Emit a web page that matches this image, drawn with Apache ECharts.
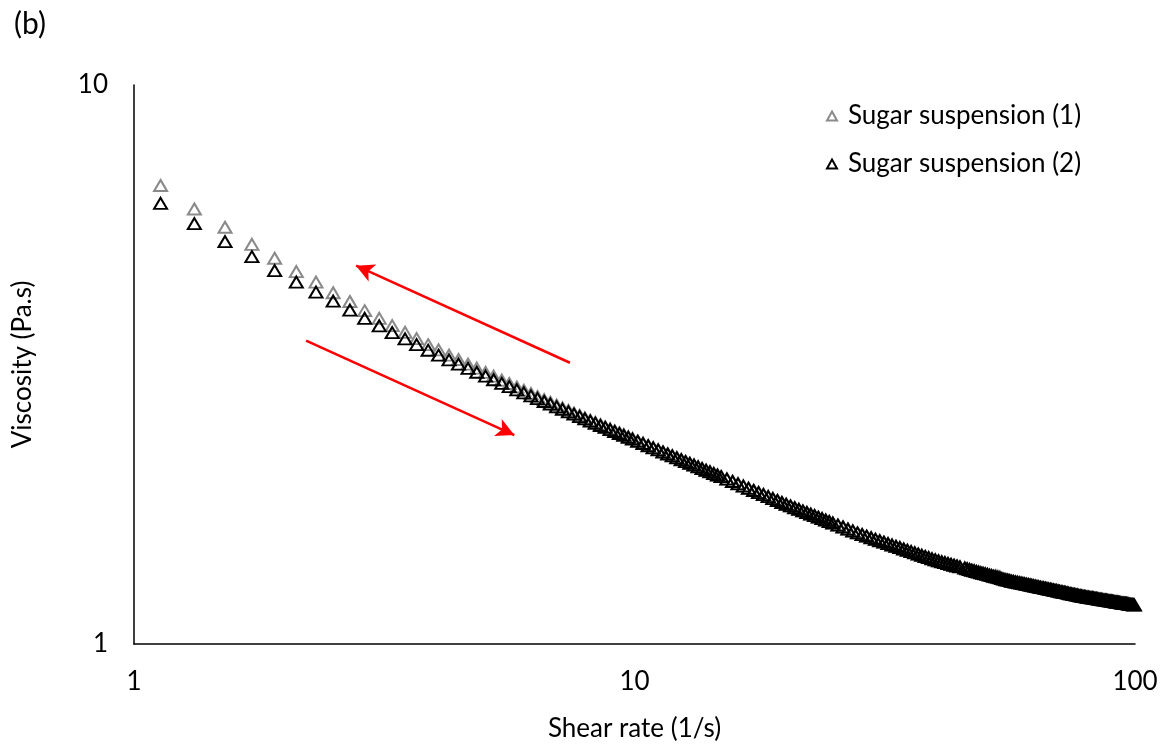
<!DOCTYPE html>
<html>
<head>
<meta charset="utf-8">
<script src="https://cdn.jsdelivr.net/npm/echarts@6.0.0/dist/echarts.min.js"></script>
<style>
  html, body { margin: 0; padding: 0; background: #fff; }
  #chart { width: 1161px; height: 747px; }
</style>
</head>
<body>
<div id="chart"></div>
<script>
// shear rate (1/s), same sweep for both runs
var shearRate = [
  1.13, 1.32, 1.52, 1.72, 1.91, 2.11, 2.31, 2.50, 2.70, 2.89, 3.09, 3.28, 3.48, 3.67, 3.87, 4.06,
  4.26, 4.45, 4.65, 4.84, 5.04, 5.23, 5.43, 5.62, 5.82, 6.01, 6.21, 6.40, 6.60, 6.79, 6.99, 7.18,
  7.38, 7.57, 7.77, 7.96, 8.16, 8.35, 8.55, 8.74, 8.94, 9.13, 9.33, 9.52, 9.72, 9.91,
  10.15, 10.40, 10.65, 10.90, 11.15, 11.40, 11.65, 11.90, 12.15, 12.40, 12.65, 12.90, 13.15, 13.40,
  13.65, 13.90, 14.15, 14.40, 14.65, 14.90,
  15.3, 15.7, 16.1, 16.5, 16.9, 17.3, 17.7, 18.1, 18.5, 18.9, 19.3, 19.7,
  20.1, 20.5, 20.9, 21.3, 21.7, 22.1, 22.5, 22.9, 23.3, 23.7, 24.1, 24.5, 24.9,
  25.5, 26.1, 26.7, 27.3, 27.9,
  28.5, 29.1, 29.7, 30.3, 30.9, 31.5, 32.1, 32.7, 33.3, 33.9, 34.5, 35.1, 35.7, 36.3, 36.9, 37.5,
  38.1, 38.7, 39.3,
  39.9, 40.5, 41.1, 41.7, 42.3, 42.9, 43.5, 44.1, 44.7,
  45.7, 46.2, 46.7, 47.2, 47.7, 48.2, 48.7, 49.2, 49.7, 50.2,
  50.7, 51.2, 51.7, 52.2, 52.7, 53.2, 53.7, 54.2, 54.7, 55.2,
  55.7, 56.2, 56.7, 57.2, 57.7, 58.2, 58.7, 59.2, 59.7, 60.2,
  60.7, 61.2, 61.7, 62.2, 62.7, 63.2, 63.7, 64.2, 64.7, 65.2,
  65.7, 66.2, 66.7, 67.2, 67.7, 68.2, 68.7, 69.2, 69.7, 70.2,
  70.7, 71.2, 71.7, 72.2, 72.7, 73.2, 73.7, 74.2, 74.7, 75.2,
  75.7, 76.2, 76.7, 77.2, 77.7, 78.2, 78.7, 79.2, 79.7, 80.2,
  80.7, 81.2, 81.7, 82.2, 82.7, 83.2, 83.7, 84.2, 84.7, 85.2,
  85.7, 86.2, 86.7, 87.2, 87.7, 88.2, 88.7, 89.2, 89.7, 90.2,
  90.7, 91.2, 91.7, 92.2, 92.7, 93.2, 93.7, 94.2, 94.7, 95.2,
  95.7, 96.2, 96.7, 97.2, 97.7, 98.2, 98.7, 99.2, 99.7
];

// viscosity (Pa.s) - sugar suspension (1), grey
var viscosity1 = [
  6.61, 6.00, 5.566, 5.186, 4.898, 4.636, 4.44, 4.25, 4.099, 3.947, 3.824, 3.712, 3.609, 3.519, 3.431, 3.358,
  3.287, 3.228, 3.168, 3.115, 3.062, 3.015, 2.966, 2.924, 2.882, 2.844, 2.806, 2.772, 2.737, 2.707, 2.675, 2.645,
  2.618, 2.590, 2.564, 2.538, 2.514, 2.493, 2.470, 2.447, 2.426, 2.407, 2.387, 2.369, 2.350, 2.333,
  2.308, 2.287, 2.266, 2.246, 2.227, 2.208, 2.190, 2.173, 2.156, 2.139, 2.123, 2.107, 2.092, 2.077,
  2.062, 2.048, 2.035, 2.021, 2.008, 1.995,
  1.974, 1.955, 1.936, 1.918, 1.901, 1.884, 1.868, 1.852, 1.837, 1.822, 1.808, 1.793,
  1.779, 1.767, 1.754, 1.742, 1.731, 1.720, 1.708, 1.698, 1.687, 1.677, 1.667, 1.657, 1.647,
  1.633, 1.620, 1.606, 1.594, 1.581,
  1.570, 1.560, 1.550, 1.540, 1.531, 1.522, 1.513, 1.504, 1.496, 1.488, 1.480, 1.472, 1.464, 1.457, 1.449, 1.442,
  1.435, 1.428, 1.421,
  1.415, 1.409, 1.404, 1.399, 1.394, 1.389, 1.384, 1.380, 1.375,
  1.368, 1.364, 1.360, 1.356, 1.353, 1.349, 1.346, 1.342, 1.339, 1.336,
  1.333, 1.329, 1.326, 1.323, 1.325, 1.322, 1.319, 1.310, 1.307, 1.304,
  1.302, 1.299, 1.296, 1.294, 1.292, 1.290, 1.288, 1.286, 1.284, 1.282,
  1.280, 1.278, 1.276, 1.274, 1.272, 1.270, 1.268, 1.266, 1.264, 1.262,
  1.261, 1.259, 1.257, 1.255, 1.254, 1.252, 1.250, 1.248, 1.247, 1.245,
  1.243, 1.241, 1.240, 1.238, 1.237, 1.235, 1.233, 1.231, 1.230, 1.228,
  1.227, 1.225, 1.224, 1.222, 1.221, 1.219, 1.218, 1.217, 1.216, 1.214,
  1.213, 1.212, 1.211, 1.210, 1.209, 1.208, 1.207, 1.205, 1.204, 1.203,
  1.202, 1.201, 1.200, 1.199, 1.198, 1.197, 1.196, 1.195, 1.194, 1.193,
  1.192, 1.191, 1.190, 1.189, 1.188, 1.187, 1.186, 1.185, 1.184, 1.183,
  1.183, 1.182, 1.181, 1.180, 1.179, 1.178, 1.177, 1.176, 1.175
];

// viscosity (Pa.s) - sugar suspension (2), black
var viscosity2 = [
  6.14, 5.65, 5.245, 4.93, 4.655, 4.44, 4.26, 4.105, 3.957, 3.824, 3.708, 3.607, 3.514, 3.433, 3.354, 3.286,
  3.223, 3.168, 3.112, 3.063, 3.014, 2.970, 2.925, 2.886, 2.848, 2.813, 2.778, 2.747, 2.715, 2.686, 2.656, 2.629,
  2.602, 2.577, 2.551, 2.528, 2.504, 2.483, 2.460, 2.440, 2.419, 2.400, 2.380, 2.362, 2.343, 2.326,
  2.305, 2.284, 2.263, 2.243, 2.224, 2.205, 2.187, 2.170, 2.153, 2.136, 2.120, 2.104, 2.089, 2.074,
  2.059, 2.045, 2.032, 2.018, 2.005, 1.992,
  1.972, 1.953, 1.934, 1.916, 1.899, 1.882, 1.866, 1.850, 1.835, 1.820, 1.806, 1.791,
  1.778, 1.766, 1.753, 1.741, 1.730, 1.719, 1.707, 1.697, 1.686, 1.676, 1.666, 1.656, 1.646,
  1.632, 1.619, 1.605, 1.593, 1.580,
  1.569, 1.559, 1.549, 1.539, 1.530, 1.521, 1.512, 1.503, 1.495, 1.487, 1.479, 1.471, 1.463, 1.456, 1.448, 1.441,
  1.434, 1.427, 1.420,
  1.414, 1.408, 1.403, 1.398, 1.393, 1.388, 1.383, 1.379, 1.374,
  1.367, 1.363, 1.359, 1.355, 1.352, 1.348, 1.345, 1.341, 1.338, 1.335,
  1.332, 1.328, 1.325, 1.322, 1.319, 1.316, 1.313, 1.309, 1.306, 1.303,
  1.301, 1.298, 1.295, 1.293, 1.291, 1.289, 1.287, 1.285, 1.283, 1.281,
  1.279, 1.277, 1.275, 1.273, 1.271, 1.269, 1.267, 1.265, 1.263, 1.261,
  1.260, 1.258, 1.256, 1.254, 1.253, 1.251, 1.249, 1.247, 1.246, 1.244,
  1.242, 1.240, 1.239, 1.237, 1.236, 1.234, 1.232, 1.230, 1.229, 1.227,
  1.226, 1.224, 1.223, 1.221, 1.220, 1.218, 1.217, 1.216, 1.215, 1.213,
  1.212, 1.211, 1.210, 1.209, 1.208, 1.207, 1.206, 1.204, 1.203, 1.202,
  1.201, 1.200, 1.199, 1.198, 1.197, 1.196, 1.195, 1.194, 1.193, 1.192,
  1.191, 1.190, 1.189, 1.188, 1.187, 1.186, 1.185, 1.184, 1.183, 1.182,
  1.182, 1.181, 1.180, 1.179, 1.178, 1.177, 1.176, 1.175, 1.174
];

var seriesNames = ['Sugar suspension (1)', 'Sugar suspension (2)'];
var seriesColors = ['#8a8a8a', '#000000'];

// red arrows (start -> head), in data coords
var arrowUp = [[7.43, 3.185], [2.778, 4.751]];
var arrowDown = [[2.207, 3.488], [5.752, 2.365]];

var font = 'Lato, "Open Sans", sans-serif';
var fontSize = 26;

function toPoints(ys) {
  return shearRate.map(function (x, i) { return [x, ys[i]]; });
}

function makeSeries(idx, ys) {
  return {
    name: seriesNames[idx],
    type: 'scatter',
    data: toPoints(ys),
    symbol: 'triangle',
    symbolSize: [13, 11],
    itemStyle: {
      color: 'rgba(255,255,255,0)',
      borderColor: seriesColors[idx],
      borderWidth: 2,
      opacity: 1
    },
    emphasis: { disabled: true },
    silent: true,
    z: 2 + idx
  };
}

var chart = echarts.init(document.getElementById('chart'), null, { renderer: 'canvas' });

var s2 = makeSeries(1, viscosity2);
s2.markLine = {
  silent: true,
  symbol: ['none', 'arrow'],
  symbolSize: [14, 18],
  label: { show: false },
  lineStyle: { color: '#ff0000', width: 2.5, type: 'solid' },
  emphasis: { disabled: true },
  data: [
    [{ coord: arrowUp[0] }, { coord: arrowUp[1] }],
    [{ coord: arrowDown[0] }, { coord: arrowDown[1] }]
  ]
};

chart.setOption({
  animation: false,
  backgroundColor: '#fff',
  textStyle: { fontFamily: font, color: '#000' },
  graphic: [{
    type: 'text',
    left: 14,
    top: 9,
    style: { text: '(b)', fontFamily: font, fontSize: 30, fill: '#000' }
  }],
  legend: {
    orient: 'vertical',
    left: 821,
    top: 98,
    itemWidth: 10,
    itemHeight: 9,
    itemGap: 22,
    icon: 'triangle',
    textStyle: { fontFamily: font, fontSize: fontSize, color: '#000', padding: [0, 0, 0, 6] },
    data: seriesNames
  },
  grid: { left: 134, right: 26, top: 85, bottom: 95, containLabel: false },
  xAxis: {
    type: 'log',
    logBase: 10,
    min: 1,
    max: 100,
    name: 'Shear rate (1/s)',
    nameLocation: 'middle',
    nameGap: 72,
    nameTextStyle: { fontFamily: font, fontSize: fontSize, color: '#000' },
    axisLine: { show: true, lineStyle: { color: '#000', width: 1.5 } },
    axisTick: { show: false },
    splitLine: { show: false },
    axisLabel: { fontFamily: font, fontSize: fontSize, color: '#000', margin: 25 }
  },
  yAxis: {
    type: 'log',
    logBase: 10,
    min: 1,
    max: 10,
    name: 'Viscosity (Pa.s)',
    nameLocation: 'middle',
    nameGap: 98,
    nameTextStyle: { fontFamily: font, fontSize: fontSize, color: '#000' },
    axisLine: { show: true, lineStyle: { color: '#000', width: 1.5 } },
    axisTick: { show: false },
    splitLine: { show: false },
    axisLabel: { fontFamily: font, fontSize: fontSize, color: '#000', margin: 26 }
  },
  series: [makeSeries(0, viscosity1), s2]
});
</script>
</body>
</html>
